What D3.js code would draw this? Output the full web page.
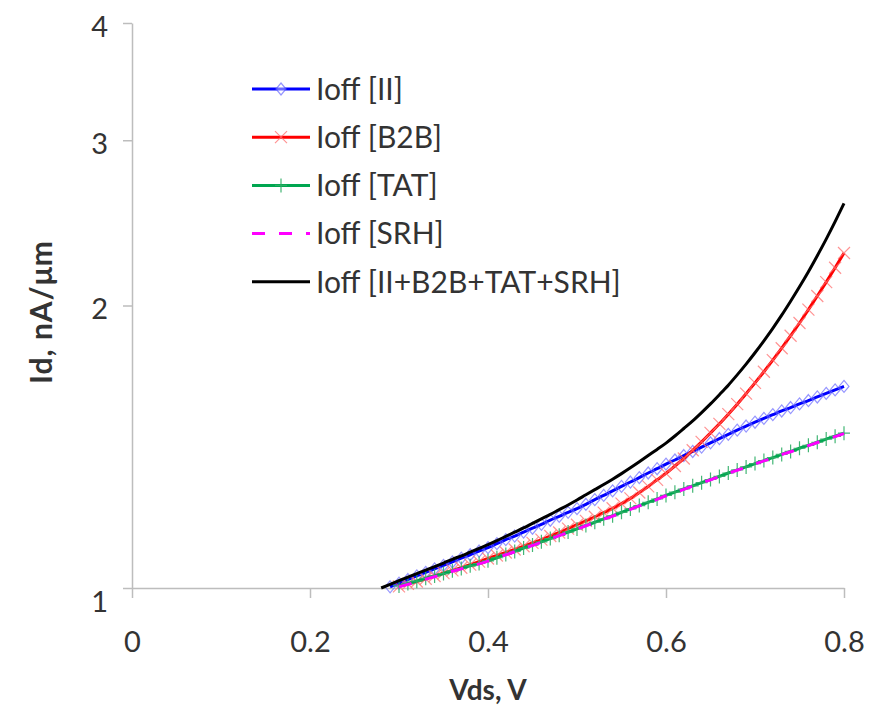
<!DOCTYPE html>
<html>
<head>
<meta charset="utf-8">
<script src="https://cdn.jsdelivr.net/npm/d3@7"></script>
<style>
  body { margin: 0; background: #fff; }
  text { font-family: Lato, "Open Sans", sans-serif; }
</style>
</head>
<body>
<svg id="chart" width="869" height="710"></svg>
<script>
// Ioff vs Vds, log y axis.

const vds = [0.28, 0.29, 0.30, 0.31, 0.32, 0.33, 0.34, 0.35, 0.36, 0.37, 0.38, 0.39,
  0.40, 0.41, 0.42, 0.43, 0.44, 0.45, 0.46, 0.47, 0.48, 0.49,
  0.50, 0.51, 0.52, 0.53, 0.54, 0.55, 0.56, 0.57, 0.58, 0.59,
  0.60, 0.61, 0.62, 0.63, 0.64, 0.65, 0.66, 0.67, 0.68, 0.69,
  0.70, 0.71, 0.72, 0.73, 0.74, 0.75, 0.76, 0.77, 0.78, 0.79, 0.80];

const ioffII = [null, 1.003, 1.012, 1.021, 1.030, 1.039, 1.048, 1.057, 1.066, 1.076, 1.085, 1.095,
  1.104, 1.115, 1.126, 1.136, 1.147, 1.158, 1.169, 1.181, 1.192, 1.204,
  1.215, 1.228, 1.242, 1.255, 1.269, 1.283, 1.297, 1.311, 1.326, 1.340,
  1.355, 1.369, 1.384, 1.398, 1.413, 1.428, 1.443, 1.458, 1.473, 1.488,
  1.502, 1.516, 1.530, 1.544, 1.557, 1.571, 1.584, 1.598, 1.612, 1.626, 1.640];

const ioffB2B = [null, null, 1.004, 1.010, 1.016, 1.023, 1.030, 1.037, 1.044, 1.051, 1.059, 1.067,
  1.075, 1.083, 1.091, 1.099, 1.108, 1.117, 1.126, 1.136, 1.146, 1.157,
  1.168, 1.179, 1.191, 1.203, 1.216, 1.230, 1.246, 1.264, 1.283, 1.304,
  1.325, 1.349, 1.374, 1.402, 1.431, 1.463, 1.496, 1.532, 1.570, 1.611,
  1.654, 1.700, 1.749, 1.801, 1.857, 1.916, 1.980, 2.047, 2.118, 2.194, 2.275];

const ioffTAT = [null, null, 1.005, 1.011, 1.017, 1.024, 1.030, 1.036, 1.043, 1.049, 1.056, 1.062,
  1.069, 1.077, 1.086, 1.094, 1.103, 1.111, 1.120, 1.129, 1.138, 1.147,
  1.156, 1.166, 1.175, 1.185, 1.194, 1.204, 1.214, 1.224, 1.234, 1.244,
  1.255, 1.265, 1.275, 1.285, 1.295, 1.305, 1.315, 1.326, 1.336, 1.346,
  1.357, 1.367, 1.377, 1.388, 1.398, 1.409, 1.419, 1.430, 1.441, 1.451, 1.462];

const ioffSRH = [null, null, 1.003, 1.009, 1.015, 1.022, 1.028, 1.035, 1.042, 1.048, 1.055, 1.061,
  1.068, 1.076, 1.085, 1.093, 1.102, 1.110, 1.119, 1.128, 1.137, 1.146,
  1.155, 1.165, 1.174, 1.184, 1.193, 1.203, 1.213, 1.223, 1.233, 1.243,
  1.254, 1.264, 1.274, 1.284, 1.294, 1.304, 1.314, 1.325, 1.335, 1.345,
  1.356, 1.366, 1.376, 1.387, 1.397, 1.408, 1.418, 1.429, 1.440, 1.450, 1.461];

const ioffTotal = [1.000, 1.009, 1.018, 1.027, 1.036, 1.045, 1.054, 1.063, 1.073, 1.082, 1.092, 1.102,
  1.112, 1.123, 1.135, 1.147, 1.159, 1.172, 1.185, 1.198, 1.212, 1.226,
  1.241, 1.257, 1.273, 1.289, 1.306, 1.324, 1.343, 1.363, 1.384, 1.405,
  1.427, 1.452, 1.479, 1.507, 1.538, 1.571, 1.607, 1.645, 1.687, 1.732,
  1.781, 1.834, 1.891, 1.953, 2.021, 2.094, 2.173, 2.260, 2.354, 2.457, 2.569];

const seriesNames = ["Ioff [II]", "Ioff [B2B]", "Ioff [TAT]", "Ioff [SRH]", "Ioff [II+B2B+TAT+SRH]"];
const xTicks = [0, 0.2, 0.4, 0.6, 0.8];
const yTicks = [1, 2, 3, 4];

const svg = d3.select("#chart");

const x = d3.scaleLinear().domain([0, 0.8]).range([132, 844]);
const y = d3.scaleLog().domain([1, 4]).range([588, 23]);

// marker shapes (relative to the point)
const diamond = "M0,-6L5,0L0,6L-5,0Z";
const cross = "M-6,-6L6,6M-6,6L6,-6";
const plus = "M-6,0L6,0M0,-7L0,7";

const styles = [
  { values: ioffII, color: "#0000ff", width: 3, dash: null, marker: diamond, mColor: "#6a6aff", mOp: 0.7 },
  { values: ioffB2B, color: "#ff0000", width: 3, dash: null, marker: cross, mColor: "#ff6f6f", mOp: 0.75 },
  { values: ioffTAT, color: "#00a650", width: 3, dash: null, marker: plus, mColor: "#2fae66", mOp: 0.9 },
  { values: ioffSRH, color: "#ff00ff", width: 3, dash: "13,14", marker: null },
  { values: ioffTotal, color: "#000000", width: 3, dash: null, marker: null }
];

// axes
const gy = svg.append("g").attr("transform", `translate(${x(0)},0)`)
  .call(d3.axisLeft(y).tickValues(yTicks).tickFormat(d3.format("d"))
    .tickSize(9).tickSizeOuter(0).tickPadding(15));
const gx = svg.append("g").attr("transform", `translate(0,${y(1)})`)
  .call(d3.axisBottom(x).tickValues(xTicks).tickFormat(d => d === 0 ? "0" : d3.format(".1f")(d))
    .tickSize(10).tickSizeOuter(0).tickPadding(33));

[gx, gy].forEach(g => {
  g.select(".domain").attr("stroke", "#bdbdbd").attr("stroke-width", 1.5);
  g.selectAll(".tick line").attr("stroke", "#bdbdbd").attr("stroke-width", 1.5);
  g.selectAll(".tick text").attr("font-size", 29).attr("fill", "#333")
    .style("font-family", "Lato, 'Open Sans', sans-serif");
});
gy.selectAll(".tick text").attr("dy", d => d === 1 ? "0.82em" : "0.45em");

// axis titles
svg.append("text")
  .attr("x", 488).attr("y", 700)
  .attr("text-anchor", "middle")
  .attr("font-size", 28).attr("font-weight", "bold").attr("fill", "#333")
  .text("Vds, V");
svg.append("text")
  .attr("transform", "translate(52,312) rotate(-90)")
  .attr("text-anchor", "middle")
  .attr("font-size", 30).attr("font-weight", "bold").attr("fill", "#333")
  .attr("letter-spacing", 1)
  .text("Id, nA/\u03bcm");

// series
const line = d3.line()
  .defined(d => d[1] !== null)
  .curve(d3.curveMonotoneX)
  .x(d => x(d[0]))
  .y(d => y(d[1]));

const plot = svg.append("g");
styles.forEach(s => {
  const pts = vds.map((v, i) => [v, s.values[i]]);
  plot.append("path")
    .datum(pts)
    .attr("fill", "none")
    .attr("stroke", s.color)
    .attr("stroke-width", s.width)
    .attr("stroke-linejoin", "round")
    .attr("stroke-dasharray", s.dash)
    .attr("d", line);
  if (s.marker) {
    plot.append("g").selectAll("path")
      .data(pts.filter(d => d[1] !== null))
      .join("path")
      .attr("transform", d => `translate(${x(d[0])},${y(d[1])})`)
      .attr("d", s.marker)
      .attr("fill", "none")
      .attr("stroke", s.mColor)
      .attr("stroke-width", 1.2)
      .attr("opacity", s.mOp);
  }
});

// legend
const legend = svg.append("g").attr("transform", "translate(252,89)");
seriesNames.forEach((name, i) => {
  const s = styles[i];
  const row = legend.append("g").attr("transform", `translate(0,${i * 48.2})`);
  row.append("line")
    .attr("x1", 0).attr("x2", 58).attr("y1", 0).attr("y2", 0)
    .attr("stroke", s.color).attr("stroke-width", s.width)
    .attr("stroke-dasharray", s.dash);
  if (s.marker) {
    row.append("path")
      .attr("transform", "translate(29,0)")
      .attr("d", s.marker)
      .attr("fill", "#fff")
      .attr("fill-opacity", s.marker === diamond ? 0.6 : 0)
      .attr("stroke", s.mColor)
      .attr("stroke-width", 1.2)
      .attr("opacity", s.mOp);
  }
  row.append("text")
    .attr("x", 64).attr("y", 0).attr("dy", "0.36em")
    .attr("font-size", 30).attr("fill", "#333")
    .text(name);
});
</script>
</body>
</html>
